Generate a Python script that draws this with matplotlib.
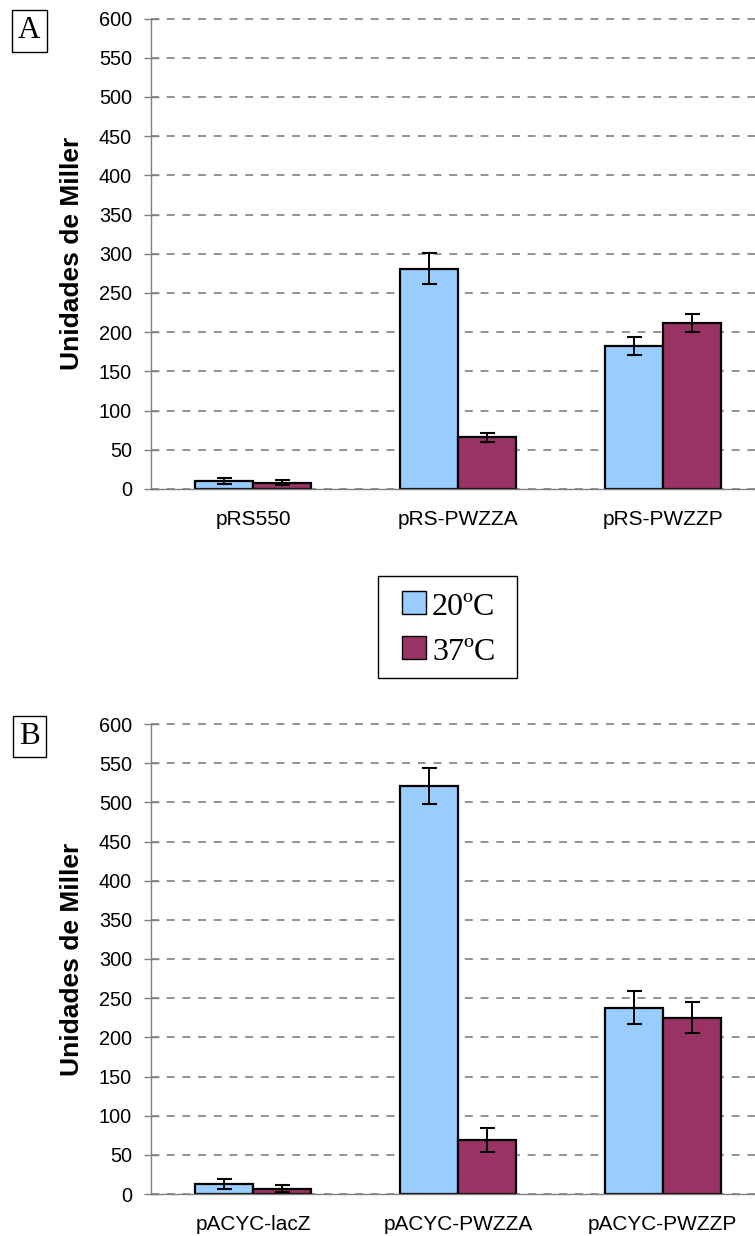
import matplotlib
matplotlib.use("Agg")
import matplotlib.pyplot as plt
from matplotlib.patches import Rectangle
import numpy as np

# ---- data ----
series_names = ["20ºC", "37ºC"]
series_colors = ["#99CCFF", "#993366"]

cats_a = ["pRS550", "pRS-PWZZA", "pRS-PWZZP"]
a_20 = [10, 281, 182]
a_20_err = [4, 20, 11.5]
a_37 = [8, 66, 212]
a_37_err = [3, 6, 11.5]

cats_b = ["pACYC-lacZ", "pACYC-PWZZA", "pACYC-PWZZP"]
b_20 = [13, 521, 238]
b_20_err = [6.5, 23, 21.5]
b_37 = [7, 69, 225]
b_37_err = [5, 15.5, 20]

yticks = list(range(0, 601, 50))
panel_letters = ["A", "B"]
ylabel = "Unidades de Miller"

# ---- figure ----
W, H = 755, 1236
DPI = 100
plt.rcParams['lines.scale_dashes'] = False
fig = plt.figure(figsize=(W / DPI, H / DPI), dpi=DPI)

def px_axes(left, top, right, bottom):
    return fig.add_axes([left / W, 1 - bottom / H, (right - left) / W, (bottom - top) / H])

ax_a = px_axes(150.7, 18.6, 755, 489)
ax_b = px_axes(150.7, 724.0, 755, 1194)

sans = "Liberation Sans"
serif = "Liberation Serif"
gray = "#808080"
bw = 0.283

def draw_panel(ax, cats, v20, e20, v37, e37):
    x = np.arange(len(cats))
    ax.bar(x - bw / 2, v20, bw, color=series_colors[0], edgecolor="black", linewidth=1.6, zorder=2)
    ax.bar(x + bw / 2, v37, bw, color=series_colors[1], edgecolor="black", linewidth=1.6, zorder=2)
    for xx, vv, ee in ((x - bw / 2, v20, e20), (x + bw / 2, v37, e37)):
        ax.errorbar(xx, vv, yerr=ee, fmt="none", ecolor="black", elinewidth=1.4,
                    capsize=5.4, capthick=1.5, zorder=3)
    ax.set_xlim(-0.5, 2.45)
    ax.set_ylim(0, 600)
    ax.set_yticks(yticks)
    ax.set_yticklabels([str(t) for t in yticks], fontsize=14.3, family=sans)
    ax.set_xticks(x)
    ax.set_xticklabels(cats, fontsize=15, family=sans)
    ax.tick_params(axis="x", length=0, pad=15.0)
    ax.tick_params(axis="y", direction="inout", length=10.8, width=1.0, color=gray, pad=8.1)
    for s in ("top", "right"):
        ax.spines[s].set_visible(False)
    for s in ("left", "bottom"):
        ax.spines[s].set_color(gray)
        ax.spines[s].set_linewidth(1.0)
    ax.yaxis.grid(True, color=gray, linewidth=1.2, linestyle=(0, (5.7, 5.6)), zorder=0)
    ax.set_axisbelow(True)
    for gl in ax.get_ygridlines():
        gl.set_clip_on(False)

draw_panel(ax_a, cats_a, a_20, a_20_err, a_37, a_37_err)
draw_panel(ax_b, cats_b, b_20, b_20_err, b_37, b_37_err)

# y labels
for ax in (ax_a, ax_b):
    pos = ax.get_position()
    fig.text(72 / W, pos.y0 + pos.height / 2, ylabel, rotation=90, ha="center", va="center",
             fontsize=19, fontweight="bold", family=sans)

# panel letters
for letter, cy in zip(panel_letters, (31, 736.5)):
    fig.text(29.5 / W, 1 - cy / H, letter, ha="center", va="center", fontsize=22.5, family=serif,
             bbox=dict(boxstyle="square,pad=0.2", facecolor="white", edgecolor="black", linewidth=1.0))

# legend (manual)
fig.add_artist(Rectangle((378 / W, 1 - 678 / H), 139 / W, 102 / H, transform=fig.transFigure,
                         facecolor="white", edgecolor="black", linewidth=1.0))
for name, col, (ptop, base) in zip(series_names, series_colors, ((591, 615), (636, 659.5))):
    fig.add_artist(Rectangle((402 / W, 1 - (ptop + 23) / H), 24 / W, 23 / H, transform=fig.transFigure,
                             facecolor=col, edgecolor="black", linewidth=1.0))
    fig.text(432 / W, 1 - base / H, name, ha="left", va="baseline", fontsize=23, family=serif)

fig.savefig("out.png", dpi=DPI)
